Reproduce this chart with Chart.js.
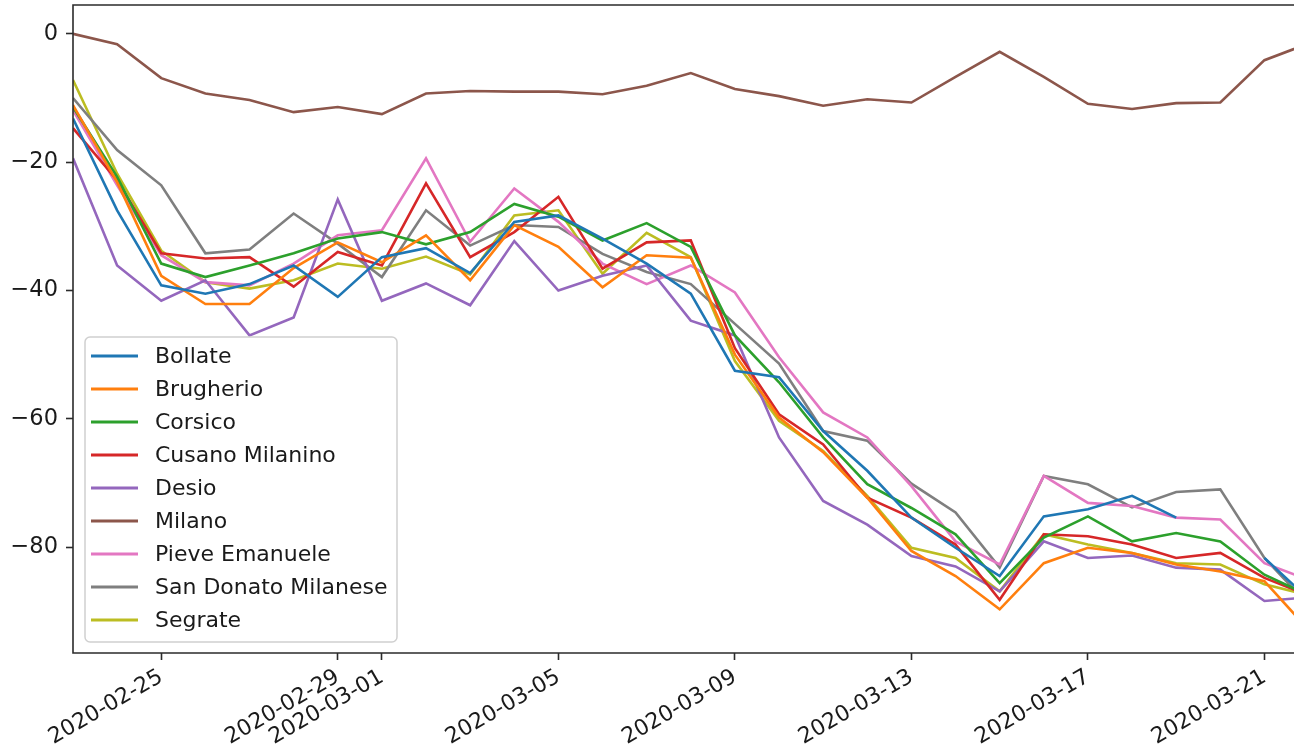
<!DOCTYPE html>
<html>
<head>
<meta charset="utf-8">
<script src="https://cdn.jsdelivr.net/npm/chart.js@4.4.0/dist/chart.umd.min.js"></script>
<style>
  html, body { margin: 0; padding: 0; background: #fff; overflow: hidden; }
  #wrap { position: relative; width: 1294px; height: 751px; }
</style>
</head>
<body>
<div id="wrap"><canvas id="mobilityChart"></canvas></div>
<script>
  const dates = [
    "2020-02-23", "2020-02-24", "2020-02-25", "2020-02-26", "2020-02-27",
    "2020-02-28", "2020-02-29", "2020-03-01", "2020-03-02", "2020-03-03",
    "2020-03-04", "2020-03-05", "2020-03-06", "2020-03-07", "2020-03-08",
    "2020-03-09", "2020-03-10", "2020-03-11", "2020-03-12", "2020-03-13",
    "2020-03-14", "2020-03-15", "2020-03-16", "2020-03-17", "2020-03-18",
    "2020-03-19", "2020-03-20", "2020-03-21", "2020-03-22"
  ];
  const xTickLabels = [
    "2020-02-25", "2020-02-29", "2020-03-01", "2020-03-05",
    "2020-03-09", "2020-03-13", "2020-03-17", "2020-03-21"
  ];
  const yTicks = [0, -20, -40, -60, -80];

  const bollate = [-13.2, -27.5, -39.2, -40.5, -39.0, -36.1, -41.0, -34.8, -33.4, -37.3,
    -29.3, -28.3, -31.9, -35.8, -40.5, -52.5, -53.5, -61.9, -68.1, -75.4,
    -80.1, -84.5, -75.2, -74.1, -72.0, -75.4, null, -81.7, -88.1];
  const brugherio = [-11.1, -23.1, -37.7, -42.1, -42.1, -36.5, -32.5, -35.6, -31.4, -38.4,
    -29.8, -33.2, -39.5, -34.5, -34.9, -50.0, -59.8, -65.2, -72.3, -80.6,
    -84.5, -89.7, -82.5, -80.1, -80.9, -82.7, -83.8, -85.3, -92.9];
  const corsico = [-11.4, -22.3, -35.8, -37.9, -36.1, -34.2, -31.9, -30.9, -32.8, -30.9,
    -26.5, -28.5, -32.2, -29.5, -33.2, -47.0, -54.3, -62.9, -70.2, -73.9,
    -78.0, -85.6, -78.5, -75.2, -79.1, -77.8, -79.1, -84.3, -87.5];
  const cusanoMilanino = [-14.7, -22.8, -34.2, -35.0, -34.8, -39.4, -34.0, -36.1, -23.3, -34.8,
    -30.9, -25.4, -36.6, -32.5, -32.2, -49.0, -59.3, -64.0, -72.3, -75.4,
    -79.6, -88.2, -78.0, -78.3, -79.6, -81.7, -80.9, -84.8, -87.5];
  const desio = [-19.4, -36.1, -41.6, -38.4, -47.0, -44.2, -25.8, -41.6, -38.9, -42.3,
    -32.3, -40.0, -37.7, -36.1, -44.7, -47.0, -62.9, -72.8, -76.5, -81.4,
    -83.0, -86.9, -79.1, -81.7, -81.3, -83.2, -83.5, -88.4, -87.8];
  const milano = [0.0, -1.6, -6.9, -9.3, -10.3, -12.2, -11.4, -12.5, -9.3, -8.9,
    -9.0, -9.0, -9.4, -8.1, -6.1, -8.6, -9.7, -11.2, -10.2, -10.7,
    -6.7, -2.8, -6.7, -10.9, -11.7, -10.8, -10.7, -4.1, -1.5];
  const pieveEmanuele = [-11.9, -23.6, -34.5, -38.7, -39.2, -35.8, -31.4, -30.6, -19.4, -32.4,
    -24.1, -29.3, -35.8, -39.0, -36.1, -40.3, -50.4, -59.0, -62.9, -70.5,
    -79.1, -82.7, -68.9, -73.1, -73.6, -75.4, -75.7, -82.5, -85.1];
  const sanDonatoMilanese = [-10.0, -18.1, -23.6, -34.2, -33.6, -28.0, -32.7, -37.9, -27.5, -33.0,
    -29.8, -30.1, -34.3, -37.1, -39.0, -45.2, -51.4, -61.9, -63.4, -70.1,
    -74.6, -83.2, -68.9, -70.2, -73.8, -71.4, -71.0, -81.7, -89.0];
  const segrate = [-7.2, -21.8, -33.8, -38.7, -39.7, -38.4, -35.8, -36.6, -34.7, -37.5,
    -28.3, -27.5, -37.4, -31.0, -34.8, -51.0, -60.3, -65.0, -72.0, -80.1,
    -81.7, -86.9, -78.0, -79.6, -80.9, -82.5, -82.7, -85.8, -87.5];

  const series = [
    ["Bollate", bollate, "#1f77b4"],
    ["Brugherio", brugherio, "#ff7f0e"],
    ["Corsico", corsico, "#2ca02c"],
    ["Cusano Milanino", cusanoMilanino, "#d62728"],
    ["Desio", desio, "#9467bd"],
    ["Milano", milano, "#8c564b"],
    ["Pieve Emanuele", pieveEmanuele, "#e377c2"],
    ["San Donato Milanese", sanDonatoMilanese, "#7f7f7f"],
    ["Segrate", segrate, "#bcbd22"]
  ];

  const FONT = "'DejaVu Sans', sans-serif";
  const minus = (v) => String(v).replace("-", "\u2212");

  // frame (spines) drawn over the lines, like matplotlib
  const framePlugin = {
    id: "frame",
    afterDatasetsDraw(chart) {
      const { ctx, chartArea: a } = chart;
      ctx.save();
      ctx.strokeStyle = "#2b2b2b";
      ctx.lineWidth = 1.6;
      ctx.beginPath();
      ctx.moveTo(chart.width + 2, a.top);
      ctx.lineTo(a.left, a.top);
      ctx.lineTo(a.left, a.bottom);
      ctx.lineTo(chart.width + 2, a.bottom);
      ctx.stroke();
      ctx.restore();
    }
  };

  // legend box in the lower left corner of the plot
  const boxLegend = {
    id: "boxLegend",
    afterDraw(chart) {
      const { ctx, chartArea: a } = chart;
      const rowH = 33;
      const n = chart.data.datasets.length;
      const w = 312;
      const h = n * rowH + 8;
      const x0 = a.left + 12;
      const y0 = a.bottom - 11 - h;
      ctx.save();
      ctx.fillStyle = "rgba(255,255,255,0.85)";
      ctx.strokeStyle = "#d0d0d0";
      ctx.lineWidth = 1.5;
      ctx.beginPath();
      ctx.roundRect(x0, y0, w, h, 5);
      ctx.fill();
      ctx.stroke();
      ctx.font = "22px " + FONT;
      ctx.textBaseline = "middle";
      ctx.fillStyle = "#1a1a1a";
      chart.data.datasets.forEach((ds, i) => {
        const cy = y0 + 19 + i * rowH;
        ctx.strokeStyle = ds.borderColor;
        ctx.lineWidth = 3;
        ctx.beginPath();
        ctx.moveTo(x0 + 6, cy);
        ctx.lineTo(x0 + 53, cy);
        ctx.stroke();
        ctx.fillText(ds.label, x0 + 70, cy + 1);
      });
      ctx.restore();
    }
  };

  function createChart() {
    const ctx = document.getElementById("mobilityChart").getContext("2d");
    const datasets = series.map(([label, values, color]) => ({
      label: label,
      data: values.map((v, i) => ({ x: i, y: v })),
      borderColor: color,
      backgroundColor: color,
      borderWidth: 2.6,
      pointRadius: 0,
      tension: 0,
      spanGaps: false
    }));

    new Chart(ctx, {
      type: "line",
      data: { datasets: datasets },
      options: {
        responsive: true,
        maintainAspectRatio: false,
        animation: false,
        layout: { padding: { top: 5, right: 0, left: 0, bottom: 0 } },
        plugins: {
          legend: { display: false },
          tooltip: { enabled: false }
        },
        scales: {
          x: {
            type: "linear",
            min: 0,
            max: 27.67,
            afterBuildTicks: (scale) => {
              scale.ticks = xTickLabels.map((d) => ({ value: dates.indexOf(d) }));
            },
            afterFit: (scale) => {
              scale.height = 98;
              scale.paddingLeft = 0;
              scale.paddingRight = 0;
            },
            grid: {
              drawOnChartArea: false,
              drawTicks: true,
              tickLength: 7,
              tickColor: "#2b2b2b",
              tickWidth: 1.6
            },
            border: { display: false },
            ticks: {
              autoSkip: false,
              minRotation: 30,
              maxRotation: 30,
              padding: 4,
              color: "#1a1a1a",
              font: { family: FONT, size: 22 },
              callback: (v) => dates[v]
            }
          },
          y: {
            min: -96.5,
            max: 4.5,
            afterBuildTicks: (scale) => {
              scale.ticks = yTicks.map((v) => ({ value: v }));
            },
            afterFit: (scale) => {
              scale.width = 73;
              scale.paddingTop = 0;
              scale.paddingBottom = 0;
            },
            grid: {
              drawOnChartArea: false,
              drawTicks: true,
              tickLength: 7,
              tickColor: "#2b2b2b",
              tickWidth: 1.6
            },
            border: { display: false },
            ticks: {
              padding: 8,
              color: "#1a1a1a",
              font: { family: FONT, size: 22.5 },
              callback: (v) => minus(v)
            }
          }
        }
      },
      plugins: [framePlugin, boxLegend]
    });
  }

  createChart();
</script>
</body>
</html>
